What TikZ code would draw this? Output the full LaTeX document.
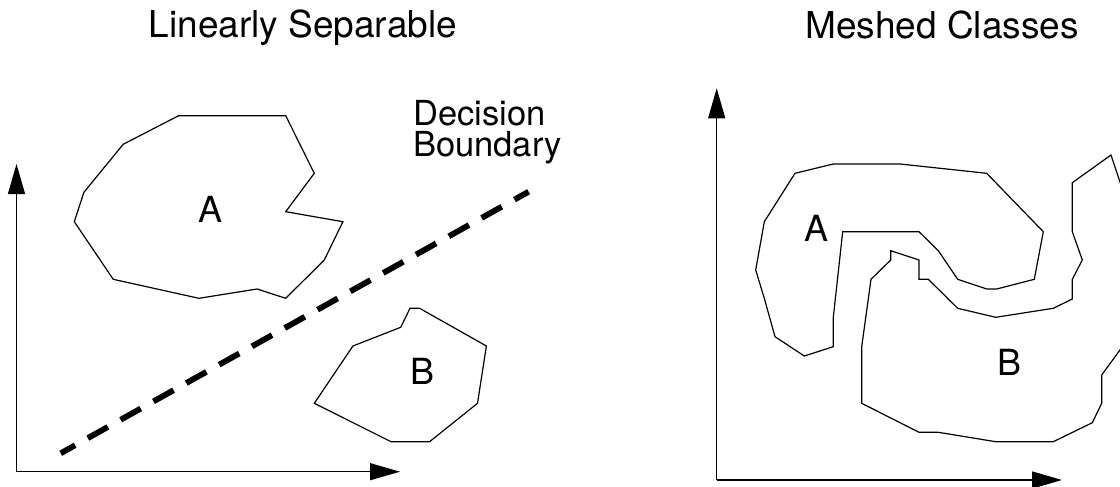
\documentclass[tikz,border=0pt]{standalone}
\usepackage{fontspec}
\setmainfont{TeX Gyre Heros}
\usetikzlibrary{arrows.meta}
\begin{document}
\begin{tikzpicture}[x=1pt,y=-1pt,
  ttl/.style={inner sep=0pt,anchor=base,font=\fontsize{37}{40}\selectfont},
  lbl/.style={inner sep=0pt,anchor=base,font=\fontsize{36}{40}\selectfont},
  dbl/.style={inner sep=0pt,anchor=base west,font=\fontsize{34.5}{36}\selectfont},
  blob/.style={draw=black,line width=1.2pt,line join=miter},
  axis/.style={draw=black,line width=1.3pt,-{Triangle[length=30pt,width=17pt]}},
  boundary/.style={draw=black,line width=5.8pt,dash pattern=on 23pt off 14.6pt,dash phase=6.5pt}]
\useasboundingbox (0,0) rectangle (1120,487);
\clip (0,0) rectangle (1120,487);
% titles
\node[ttl] (t1) at (303,38) {Linearly Separable};
\node[ttl] (t2) at (942,39) {Meshed Classes};
% left axes
\coordinate (o1) at (16.5,471.7);
\coordinate (y1) at (16.5,164);
\coordinate (x1) at (400,471.7);
\draw[axis] (o1) -- (y1);
\draw[axis] (o1) -- (x1);
% decision boundary
\coordinate (d1) at (60.7,453.3);
\coordinate (d2) at (528.6,191.7);
\draw[boundary] (d1) -- (d2);
\node[dbl] (dec) at (413,125) {Decision};
\node[dbl] (bnd) at (413,156) {Boundary};
% left class A
\draw[blob] (178.6,115.7) -- (285.7,115.7) -- (314.3,173.3) -- (285.7,211.7) -- (342.9,221.7)
  -- (324.3,260) -- (285.7,298.3) -- (257.1,289) -- (198.9,298.3) -- (113.2,279.3)
  -- (74.3,221.7) -- (83.9,192.3) -- (123.2,144.3) -- cycle;
\node[lbl] (la) at (211,222) {A};
% left class B
\draw[blob] (410,308.3) -- (419.6,308.3) -- (486.4,346) -- (477.5,403.3) -- (429.6,441.7)
  -- (391,441.7) -- (314.3,403.3) -- (352.9,346) -- (400.7,327.3) -- cycle;
\node[lbl] (lb) at (422.5,384) {B};
% right axes
\coordinate (o2) at (716.7,480);
\coordinate (y2) at (716.7,88.3);
\coordinate (x2) at (1062,480);
\draw[axis] (o2) -- (y2);
\draw[axis] (o2) -- (x2);
% right class A
\draw[blob] (795,173.3) -- (833.3,164) -- (900,164) -- (986.7,173.3) -- (1043.3,231.7)
  -- (1034.3,279.3) -- (996.7,289) -- (986.7,289) -- (957.7,279.3) -- (938.3,250.7)
  -- (919,231.7) -- (842.7,231.7) -- (833.3,317.3) -- (833.3,346.7) -- (804.3,356)
  -- (775,336.7) -- (764.3,298.3) -- (755.7,270) -- (764.3,221.7) -- cycle;
\node[lbl] (ra) at (816.7,241.7) {A};
% right class B
\draw[blob] (890.7,250.7) -- (919,260) -- (919,279.3) -- (928.3,279.3) -- (957.7,308.3)
  -- (995.7,317.3) -- (1053.3,308.3) -- (1072.3,299) -- (1072.3,279.3) -- (1082.3,260)
  -- (1072.3,231.7) -- (1072.3,182.7) -- (1111,155) -- (1124,194) -- (1128,339)
  -- (1101.7,375) -- (1101.7,403.3) -- (1092.3,422.7) -- (1053.3,441.7) -- (995.7,441.7)
  -- (938.3,432.3) -- (919,432.3) -- (861.7,403.3) -- (861.7,346.7) -- (871,279.3)
  -- (890.7,260) -- cycle;
\node[lbl] (rb) at (1009,375) {B};
\end{tikzpicture}
\end{document}
